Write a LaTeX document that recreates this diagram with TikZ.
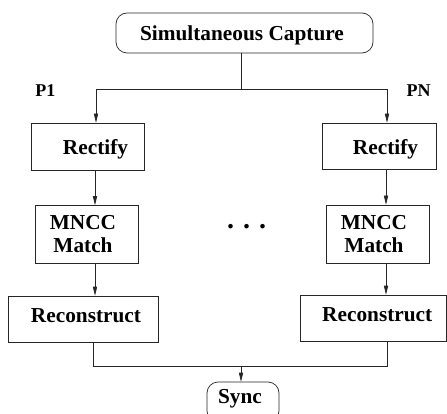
\documentclass[tikz,border=0pt]{standalone}
\usepackage{fontspec}
\setmainfont{Liberation Serif}
\usetikzlibrary{arrows.meta}
\begin{document}
\begin{tikzpicture}[x=1pt,y=-1pt,
  every node/.style={font=\bfseries\fontsize{21.3}{23}\selectfont, inner sep=0pt},
  box/.style={draw=black!85, line width=0.7pt, text depth=5pt},
  rbox/.style={box, rounded corners=11pt},
  conn/.style={line width=0.7pt, draw=black!85},
  arr/.style={conn, -{Triangle[length=9pt,width=4.2pt]}},
  plabel/.style={font=\bfseries\fontsize{18}{20}\selectfont}]
\useasboundingbox (0,0) rectangle (447,414);
\clip (0,0) rectangle (447,414);

% top
\node[rbox, minimum width=257pt, minimum height=40pt, text height=21pt] (cap) at (244.5,33) {Simultaneous Capture\hspace*{5pt}};

% left column
\node[box, minimum width=113pt, minimum height=47pt, text height=21pt] (rl) at (87.5,146.5) {\hspace*{16pt}Rectify};
\node[box, minimum width=103pt, minimum height=58pt, align=center] (ml) at (86.5,234.5) {\rule{0pt}{18pt}MNCC\hspace*{7pt}\\Match\hspace*{7pt}};
\node[box, minimum width=150pt, minimum height=46pt, text height=12pt] (cl) at (83,319) {\hspace*{6pt}Reconstruct};

% right column
\node[box, minimum width=114pt, minimum height=46pt, text height=22pt] (rr) at (379,146) {\hspace*{13pt}Rectify};
\node[box, minimum width=103pt, minimum height=58pt, align=center] (mr) at (377.5,234) {\rule{0pt}{18pt}MNCC\hspace*{7pt}\\Match\hspace*{7pt}};
\node[box, minimum width=146.5pt, minimum height=46pt, text height=12pt] (cr) at (373.25,318) {\hspace*{8pt}Reconstruct};

% bottom
\node[rbox, minimum width=72pt, minimum height=40pt, text height=7pt] (sync) at (243,402) {Sync\hspace*{6pt}};

% labels
\node[plabel] (p1) at (45.3,90.5) {P1};
\node[plabel] (pn) at (418.7,90.5) {PN};
\node[anchor=base, font=\bfseries\fontsize{28}{30}\selectfont] (dots) at (246.7,228.5) {.\hspace*{9pt}.\hspace*{9pt}.};

% branch coordinates
\coordinate (split) at (241,89);
\coordinate (sl) at (96,89);
\coordinate (sr) at (387,89);
\coordinate (join) at (241,366);
\coordinate (jl) at (93,366);
\coordinate (jr) at (387,366);

% connectors
\draw[conn] (cap.south -| split) -- (split);
\draw[conn] (sl) -- (sr);
\draw[arr] (sl) -- (sl |- rl.north);
\draw[arr] (sr) -- (sr |- rr.north);

\draw[arr] (rl.south -| 95,0) -- (ml.north -| 95,0);
\draw[arr] (ml.south -| 95,0) -- (cl.north -| 95,0);
\draw[arr] (rr.south -| 386,0) -- (mr.north -| 386,0);
\draw[arr] (mr.south -| 386,0) -- (cr.north -| 386,0);

\draw[conn] (cl.south -| jl) -- (jl) -- (jr) -- (cr.south -| jr);
\draw[arr] (join) -- (join |- sync.north);
\end{tikzpicture}
\end{document}
